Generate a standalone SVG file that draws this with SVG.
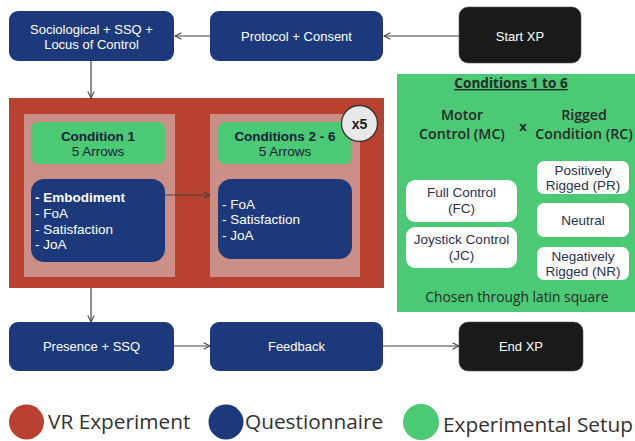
<svg xmlns="http://www.w3.org/2000/svg" width="635" height="441" viewBox="0 0 635 441">
<defs>
<marker id="arr" viewBox="0 0 10 10" refX="9" refY="5" markerWidth="8" markerHeight="8" markerUnits="userSpaceOnUse" orient="auto">
<path d="M1,1 L9,5 L1,9" fill="none" stroke="#444" stroke-width="1.3"/>
</marker>
<style>
.navy{fill:#1c3a7b}
.blk{fill:#1a1a1a;stroke:#555;stroke-width:0.6}
.t{font-family:"Liberation Sans",Arial,sans-serif;font-size:13px;fill:#fff;text-anchor:middle}
.g{fill:#4cc974}
.ct{font-family:"Liberation Sans",Arial,sans-serif;font-size:13.5px;fill:#17223d;text-anchor:middle}
.lt{font-family:"Liberation Sans",Arial,sans-serif;font-size:13.5px;fill:#fff}
.wb{fill:#fff}
.wt{font-family:"Liberation Sans",Arial,sans-serif;font-size:13.5px;fill:#2a3250;text-anchor:middle}
.os{font-family:"Open Sans",sans-serif;fill:#262b28;text-anchor:middle}
.leg{font-family:"Open Sans",sans-serif;font-size:20.8px;fill:#333}
.c{fill:none;stroke:#444;stroke-width:1.2;marker-end:url(#arr)}
</style>
</defs>

<g id="vr-experiment">
<rect x="9" y="98" width="375" height="190" fill="#b8412f"/>
<rect x="24" y="114" width="151" height="163" fill="#cc8f87"/>
<rect x="210" y="114" width="150" height="163" fill="#cc8f87"/>
</g>

<g id="connectors">
<path class="c" d="M459,36 L384,36"/>
<path class="c" d="M210,36 L175,36"/>
<path class="c" d="M91,61 L91,98"/>
<path class="c" d="M165,195 L210,195"/>
<path class="c" d="M91,288 L91,322"/>
<path class="c" d="M174,346 L210,346"/>
<path class="c" d="M383,346 L459,346"/>
</g>

<g id="socio">
<rect class="navy" x="9" y="11" width="165" height="50" rx="9"/>
<text class="t" x="91.5" y="34">Sociological + SSQ +</text>
<text class="t" x="91.5" y="49">Locus of Control</text>
</g>

<g id="protocol">
<rect class="navy" x="210" y="11" width="173" height="50" rx="9"/>
<text class="t" x="296.5" y="41">Protocol + Consent</text>
</g>

<g id="start">
<rect class="blk" x="459" y="7" width="122" height="56" rx="9"/>
<text class="t" x="520" y="40.5">Start XP</text>
</g>

<g id="cond1">
<rect class="g" x="31" y="122" width="134" height="42" rx="7"/>
<text class="ct" x="98" y="141" font-weight="bold">Condition 1</text>
<text class="ct" x="98" y="156">5 Arrows</text>
</g>

<g id="q1">
<rect class="navy" x="31" y="179" width="134" height="83" rx="13"/>
<text class="lt" x="35" y="202" font-weight="bold">- Embodiment</text>
<text class="lt" x="35" y="218">- FoA</text>
<text class="lt" x="35" y="234">- Satisfaction</text>
<text class="lt" x="35" y="249">- JoA</text>
</g>

<g id="cond26">
<rect class="g" x="218" y="122" width="134" height="42" rx="7"/>
<text class="ct" x="285" y="141" font-weight="bold">Conditions 2 - 6</text>
<text class="ct" x="285" y="156">5 Arrows</text>
</g>

<g id="q26">
<rect class="navy" x="218" y="179" width="134" height="80" rx="13"/>
<text class="lt" x="222" y="209">- FoA</text>
<text class="lt" x="222" y="224">- Satisfaction</text>
<text class="lt" x="222" y="240">- JoA</text>
</g>

<g id="x5">
<circle cx="359.5" cy="123.5" r="18" fill="#e8e8e8" stroke="#333" stroke-width="1.3"/>
<text x="359.5" y="128.5" font-family="Liberation Sans,Arial,sans-serif" font-size="14" font-weight="bold" fill="#1a1a1a" text-anchor="middle">x5</text>
</g>

<g id="setup">
<rect class="g" x="397" y="74" width="238" height="238"/>
<text class="os" x="511" y="88" font-size="13.6" font-weight="bold" text-decoration="underline">Conditions 1 to 6</text>
<text class="os" x="462" y="120" font-size="14.2" font-weight="600">Motor</text>
<text class="os" x="462" y="139" font-size="14.2" font-weight="600">Control (MC)</text>
<text class="os" x="523" y="131" font-size="13" font-weight="bold">x</text>
<text class="os" x="584" y="120" font-size="14.2" font-weight="600">Rigged</text>
<text class="os" x="584" y="139" font-size="14.2" font-weight="600">Condition (RC)</text>
<text class="os" x="517" y="302" font-size="13.8">Chosen through latin square</text>
</g>

<g id="fc">
<rect class="wb" x="406" y="180" width="111" height="42" rx="9"/>
<text class="wt" x="461.5" y="197">Full Control</text>
<text class="wt" x="461.5" y="213">(FC)</text>
</g>
<g id="jc">
<rect class="wb" x="406" y="227" width="111" height="41" rx="9"/>
<text class="wt" x="461.5" y="244">Joystick Control</text>
<text class="wt" x="461.5" y="260">(JC)</text>
</g>
<g id="pr">
<rect class="wb" x="537" y="161" width="92" height="33" rx="7"/>
<text class="wt" x="583" y="175">Positively</text>
<text class="wt" x="583" y="190">Rigged (PR)</text>
</g>
<g id="neutral">
<rect class="wb" x="537" y="203" width="92" height="34" rx="7"/>
<text class="wt" x="583" y="225">Neutral</text>
</g>
<g id="nr">
<rect class="wb" x="537" y="247" width="92" height="33" rx="7"/>
<text class="wt" x="583" y="261">Negatively</text>
<text class="wt" x="583" y="276">Rigged (NR)</text>
</g>

<g id="presence">
<rect class="navy" x="9" y="322" width="165" height="49" rx="9"/>
<text class="t" x="91.5" y="351">Presence + SSQ</text>
</g>
<g id="feedback">
<rect class="navy" x="210" y="322" width="173" height="49" rx="9"/>
<text class="t" x="296.5" y="351">Feedback</text>
</g>
<g id="end">
<rect class="blk" x="459" y="322" width="124" height="49" rx="9"/>
<text class="t" x="521" y="351">End XP</text>
</g>

<g id="legend">
<circle cx="26.5" cy="422" r="17.5" fill="#b8412f"/>
<text class="leg" x="48" y="429">VR Experiment</text>
<circle cx="226" cy="422" r="17.5" fill="#1c3a7b"/>
<text class="leg" x="245" y="429" font-size="20.6">Questionnaire</text>
<circle cx="421" cy="422" r="18" fill="#4cc974"/>
<text class="leg" x="443" y="432" font-size="21.6">Experimental Setup</text>
</g>
</svg>
